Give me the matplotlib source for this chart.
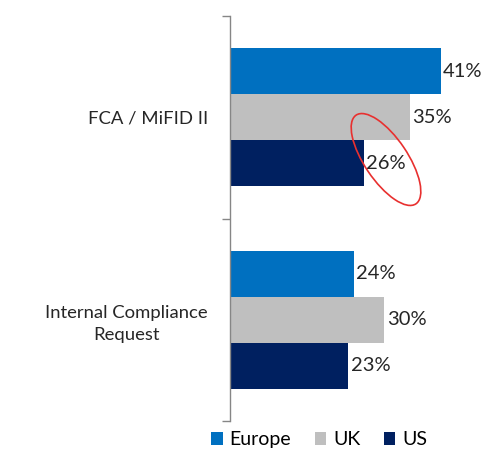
import matplotlib.pyplot as plt
import numpy as np
from matplotlib.patches import Ellipse
from matplotlib.ticker import FixedLocator

categories = ['FCA / MiFID II', 'Internal Compliance\nRequest']
series = ['Europe', 'UK', 'US']
values = {
    'Europe': [41, 24],
    'UK': [35, 30],
    'US': [26, 23],
}
colors = {'Europe': '#0070C0', 'UK': '#BFBFBF', 'US': '#002060'}

plt.rcParams['font.family'] = ['Lato', 'DejaVu Sans']

fig = plt.figure(figsize=(4.88, 4.54), dpi=100)
ax = fig.add_axes([0.472, 0.0727, 0.52, 0.892])

y = np.arange(len(categories))
h = 0.227
for k, name in enumerate(series):
    pos = y + (k - 1) * h
    bars = ax.barh(pos, values[name], height=h, color=colors[name], label=name)
    for b, v in zip(bars, values[name]):
        ax.text(b.get_width() + 0.45, b.get_y() + b.get_height() / 2, f'{v}%',
                va='center', ha='left', fontsize=14.5, color='#262626')

ax.set_xlim(0, 49.4)
ax.set_ylim(1.5, -0.5)
ax.set_yticks(y)
ax.set_yticklabels(categories, fontsize=13.3, color='#262626',
                   multialignment='center', linespacing=1.45)
ax.tick_params(axis='y', which='major', length=0, pad=16)
ax.yaxis.set_minor_locator(FixedLocator([-0.5, 0.5, 1.5]))
ax.tick_params(axis='y', which='minor', length=6, width=1, color='#868686')
ax.set_xticks([])
for s in ['top', 'right', 'bottom']:
    ax.spines[s].set_visible(False)
ax.spines['left'].set_color('#868686')
ax.spines['left'].set_linewidth(1)

# red highlight around the US value of the first group
ell = Ellipse((3.86, 2.945), 1.07, 0.43, angle=-56, fill=False,
              edgecolor='#E8302F', linewidth=1.2, transform=fig.dpi_scale_trans)
fig.patches.append(ell)

fig.legend(loc='center', bbox_to_anchor=(0.654, 0.031), ncol=3, frameon=False,
           fontsize=14, handlelength=0.6, handleheight=0.6, handletextpad=0.35,
           columnspacing=1.2)

fig.savefig('out.png', dpi=100)
